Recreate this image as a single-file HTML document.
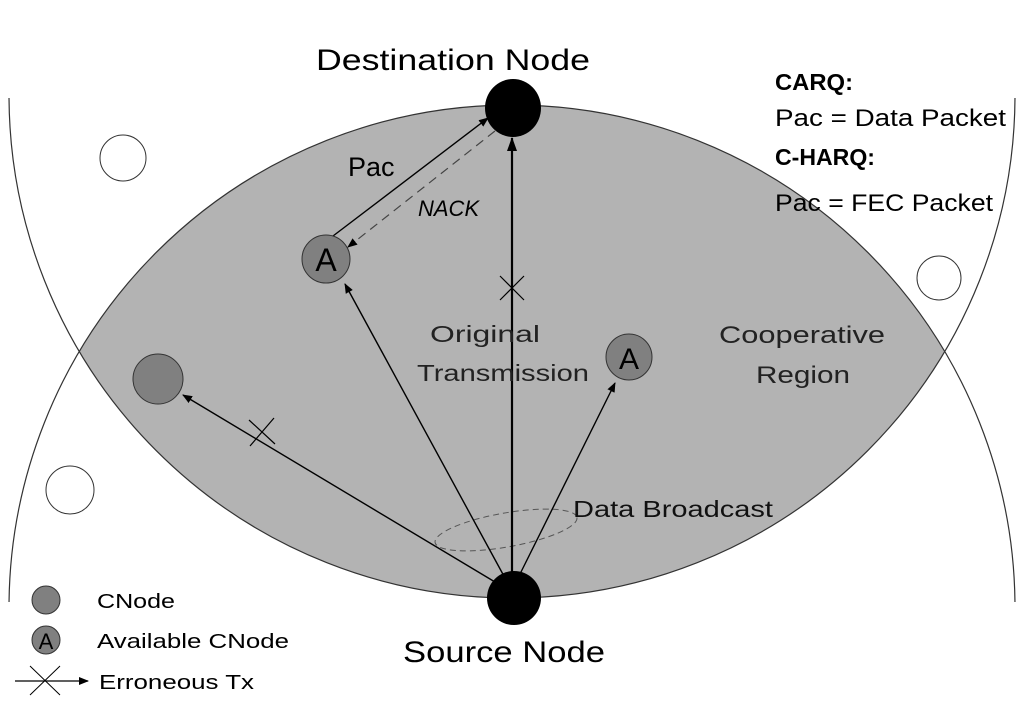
<!DOCTYPE html>
<html><head><style>html,body{margin:0;padding:0;background:#fff;width:1024px;height:709px;overflow:hidden}svg{display:block}text{font-family:"Liberation Sans",sans-serif}</style></head>
<body>
<svg width="1024" height="709" viewBox="0 0 1024 709" xmlns="http://www.w3.org/2000/svg">
<defs>
<clipPath id="cA"><circle cx="512" cy="608" r="503"/></clipPath>
<clipPath id="band"><rect x="0" y="98" width="1024" height="504"/></clipPath>
<marker id="ar" markerWidth="10" markerHeight="8" refX="9" refY="4" orient="auto" markerUnits="userSpaceOnUse"><path d="M0,0 L10,4 L0,8 z" fill="#000"/></marker>
<marker id="arB" markerWidth="14" markerHeight="10" refX="13" refY="5" orient="auto" markerUnits="userSpaceOnUse"><path d="M0,0 L14,5 L0,10 z" fill="#000"/></marker>
</defs>
<circle cx="512" cy="95" r="503" fill="#b3b3b3" clip-path="url(#cA)"/>
<g clip-path="url(#band)" fill="none" stroke="#333" stroke-width="1.2">
<circle cx="512" cy="95" r="503"/>
<circle cx="512" cy="608" r="503"/>
</g>
<ellipse cx="123" cy="158" rx="23" ry="23" fill="#fff" stroke="#333"/>
<ellipse cx="939" cy="278" rx="22" ry="22" fill="#fff" stroke="#333"/>
<ellipse cx="70" cy="490" rx="24" ry="24" fill="#fff" stroke="#333"/>
<ellipse cx="506" cy="530" rx="72" ry="17" transform="rotate(-10 506 530)" fill="none" stroke="#555" stroke-dasharray="6,4"/>
<line x1="512" y1="578" x2="512" y2="138" stroke="#000" stroke-width="2.2" marker-end="url(#arB)"/>
<line x1="505" y1="578" x2="345" y2="284" stroke="#000" stroke-width="1.4" marker-end="url(#ar)"/>
<line x1="518" y1="578" x2="615" y2="383" stroke="#000" stroke-width="1.4" marker-end="url(#ar)"/>
<line x1="500" y1="585" x2="183" y2="395" stroke="#000" stroke-width="1.4" marker-end="url(#ar)"/>
<line x1="333" y1="236" x2="488" y2="118" stroke="#000" stroke-width="1.4" marker-end="url(#ar)"/>
<line x1="495" y1="131" x2="348" y2="247" stroke="#444" stroke-width="1.2" stroke-dasharray="9,6" marker-end="url(#ar)"/>
<path d="M500,276 L524,300 M524,276 L500,300" stroke="#000" stroke-width="1.2"/>
<path d="M249,420 L275,444 M274,418 L250,446" stroke="#000" stroke-width="1.2"/>
<ellipse cx="513" cy="108" rx="28" ry="29" fill="#000"/>
<ellipse cx="514" cy="598" rx="27" ry="27" fill="#000"/>
<circle cx="326" cy="259" r="24" fill="#808080" stroke="#333"/>
<text x="326" y="271" font-size="32" text-anchor="middle">A</text>
<circle cx="629" cy="357" r="23" fill="#808080" stroke="#333"/>
<text x="629" y="369" font-size="30" text-anchor="middle">A</text>
<circle cx="158" cy="379" r="25" fill="#808080" stroke="#333"/>
<text x="316" y="70" font-size="30" textLength="274" lengthAdjust="spacingAndGlyphs">Destination Node</text>
<text x="403" y="662" font-size="30" textLength="202" lengthAdjust="spacingAndGlyphs">Source Node</text>
<text x="775" y="90" font-size="23" font-weight="bold" textLength="78" lengthAdjust="spacingAndGlyphs">CARQ:</text>
<text x="775" y="126" font-size="24" textLength="231" lengthAdjust="spacingAndGlyphs">Pac = Data Packet</text>
<text x="775" y="165" font-size="23" font-weight="bold" textLength="100" lengthAdjust="spacingAndGlyphs">C-HARQ:</text>
<text x="775" y="211" font-size="24" textLength="218" lengthAdjust="spacingAndGlyphs">Pac = FEC Packet</text>
<text x="348" y="176" font-size="27">Pac</text>
<text x="418" y="216" font-size="22" font-style="italic">NACK</text>
<text x="485" y="342" font-size="23" text-anchor="middle" fill="#222" textLength="110" lengthAdjust="spacingAndGlyphs">Original</text>
<text x="417" y="381" font-size="23" fill="#222" textLength="172" lengthAdjust="spacingAndGlyphs">Transmission</text>
<text x="719" y="343" font-size="24" fill="#222" font-family="Liberation Serif,serif" textLength="166" lengthAdjust="spacingAndGlyphs">Cooperative</text>
<text x="756" y="383" font-size="24" fill="#222" font-family="Liberation Serif,serif" textLength="94" lengthAdjust="spacingAndGlyphs">Region</text>
<text x="573" y="517" font-size="23" fill="#111" textLength="200" lengthAdjust="spacingAndGlyphs">Data Broadcast</text>
<circle cx="46" cy="600" r="14" fill="#808080" stroke="#333"/>
<text x="97" y="608" font-size="20" textLength="78" lengthAdjust="spacingAndGlyphs">CNode</text>
<circle cx="46" cy="640" r="14" fill="#808080" stroke="#333"/>
<text x="46" y="649" font-size="22" text-anchor="middle">A</text>
<text x="97" y="648" font-size="20" textLength="192" lengthAdjust="spacingAndGlyphs">Available CNode</text>
<line x1="15" y1="681" x2="88" y2="681" stroke="#000" stroke-width="1.3" marker-end="url(#ar)"/>
<path d="M30,666 L60,695 M60,666 L30,695" stroke="#000" stroke-width="1"/>
<text x="99" y="689" font-size="20" textLength="155" lengthAdjust="spacingAndGlyphs">Erroneous Tx</text>
</svg>
</body></html>
